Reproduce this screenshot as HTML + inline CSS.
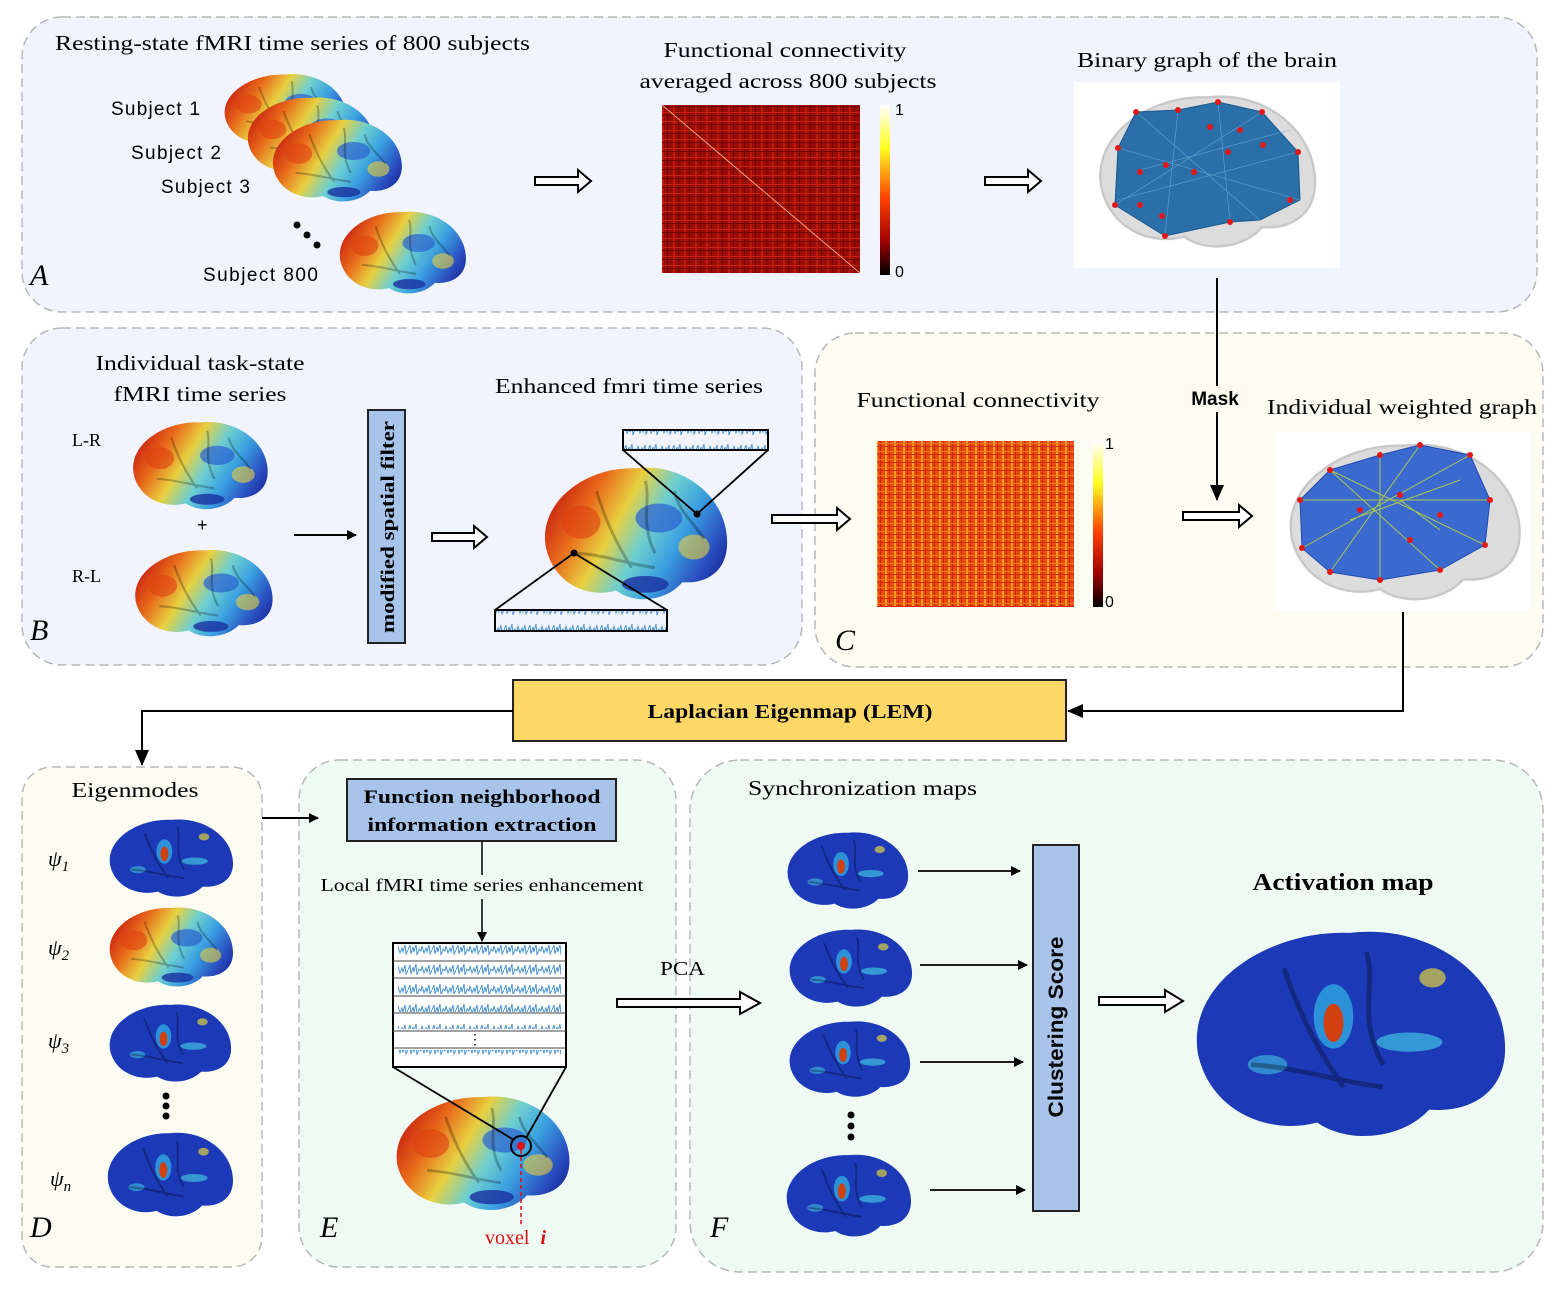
<!DOCTYPE html>
<html><head><meta charset="utf-8"><style>
html,body{margin:0;padding:0;background:#fff;}
svg{display:block;}
.s{font-family:"Liberation Serif",serif;}
.a{font-family:"Liberation Sans",sans-serif;}
</style></head><body>
<svg width="1568" height="1296" viewBox="0 0 1568 1296" xmlns="http://www.w3.org/2000/svg">
<defs>
<linearGradient id="jet" x1="0" y1="0.3" x2="1" y2="0.7">
<stop offset="0" stop-color="#c81e10"/><stop offset="0.2" stop-color="#e86a1a"/><stop offset="0.38" stop-color="#e8d040"/><stop offset="0.55" stop-color="#6ecfd0"/><stop offset="0.72" stop-color="#3aa0e0"/><stop offset="0.9" stop-color="#2a50c0"/><stop offset="1" stop-color="#1a30a0"/>
</linearGradient>
<linearGradient id="cb1" x1="0" y1="0" x2="0" y2="1"><stop offset="0" stop-color="#ffffff"/><stop offset="0.25" stop-color="#ffff20"/><stop offset="0.55" stop-color="#ff4000"/><stop offset="0.8" stop-color="#a00000"/><stop offset="1" stop-color="#000"/></linearGradient>
<pattern id="mA" width="11" height="9" patternUnits="userSpaceOnUse"><rect width="11" height="9" fill="#9a0c06"/><rect x="2" width="2" height="9" fill="#c01808"/><rect x="7" width="1" height="9" fill="#6a0604"/><rect y="4" width="11" height="1" fill="#c82010"/><rect y="7" width="11" height="1" fill="#700604"/></pattern>
<pattern id="mC" width="9" height="8" patternUnits="userSpaceOnUse"><rect width="9" height="8" fill="#e84a10"/><rect x="3" width="2" height="8" fill="#f8a020"/><rect x="7" width="1" height="8" fill="#c82008"/><rect y="3" width="9" height="1" fill="#f07a18"/><rect y="6" width="9" height="1" fill="#d03008"/></pattern>
<pattern id="sig" width="24" height="20" patternUnits="userSpaceOnUse"><path d="M0,10 L2,5 L3,14 L5,7 L6,12 L8,4 L9,15 L11,9 L13,11 L14,6 L16,13 L18,8 L19,12 L21,5 L22,14 L24,10" fill="none" stroke="#3c8cd0" stroke-width="0.9"/></pattern>
<symbol id="bj" viewBox="0 0 100 70" preserveAspectRatio="none">
<path d="M4,42 C0,20 25,3 50,4 C75,1 97,18 97,40 C97,54 86,60 74,59 C66,68 50,70 40,63 C26,67 8,60 4,42 Z" fill="url(#jet)"/>
<ellipse cx="62" cy="28" rx="12" ry="7" fill="#2a60d0" opacity="0.7"/>
<ellipse cx="80" cy="42" rx="8" ry="6" fill="#e8d040" opacity="0.6"/>
<ellipse cx="55" cy="60" rx="12" ry="4" fill="#1a30a0" opacity="0.8"/>
<ellipse cx="22" cy="30" rx="10" ry="8" fill="#e04010" opacity="0.6"/>
<path d="M30,15 C35,30 40,40 48,52 M55,10 C58,20 52,30 60,45 M20,45 C35,46 45,50 60,52 M70,15 C72,25 80,30 85,38" stroke="#000" stroke-opacity="0.25" stroke-width="1.5" fill="none"/>
</symbol>
<symbol id="ba" viewBox="0 0 100 70" preserveAspectRatio="none">
<path d="M4,42 C0,20 25,3 50,4 C75,1 97,18 97,40 C97,54 86,60 74,59 C66,68 50,70 40,63 C26,67 8,60 4,42 Z" fill="#1c3ab8"/>
<ellipse cx="45" cy="30" rx="6" ry="10" fill="#30a8e0" opacity="0.8"/>
<ellipse cx="45" cy="32" rx="3" ry="6" fill="#d04010"/>
<ellipse cx="68" cy="38" rx="10" ry="3" fill="#40c0e0" opacity="0.7"/>
<ellipse cx="25" cy="45" rx="6" ry="3" fill="#40c0e0" opacity="0.6"/>
<ellipse cx="75" cy="18" rx="4" ry="3" fill="#e0d040" opacity="0.7"/>
<path d="M30,15 C35,30 40,40 48,52 M55,10 C58,20 52,30 60,45 M20,45 C35,46 45,50 60,52" stroke="#000" stroke-opacity="0.3" stroke-width="1.5" fill="none"/>
</symbol>
<symbol id="bg" viewBox="0 0 100 70" preserveAspectRatio="none">
<path d="M4,42 C0,20 25,3 50,4 C75,1 97,18 97,40 C97,54 86,60 74,59 C66,68 50,70 40,63 C26,67 8,60 4,42 Z" fill="#dcdcdc" stroke="#c8c8c8"/>
</symbol>
<marker id="ar" markerWidth="10" markerHeight="10" refX="9" refY="5" orient="auto" markerUnits="userSpaceOnUse"><path d="M0,0 L10,5 L0,10 Z" fill="#000"/></marker>
<marker id="ar2" markerWidth="16" markerHeight="14" refX="15" refY="7" orient="auto" markerUnits="userSpaceOnUse"><path d="M0,0 L16,7 L0,14 Z" fill="#000"/></marker>
</defs>

<g stroke="#b8b8b8" stroke-width="1.5" stroke-dasharray="9,5">
<rect x="22" y="17" width="1515" height="295" rx="40" fill="#f1f4fc"/>
<rect x="22" y="328" width="780" height="337" rx="40" fill="#f1f4fc"/>
<rect x="815" y="333" width="728" height="334" rx="40" fill="#fcfcf2"/>
<rect x="22" y="767" width="240" height="500" rx="30" fill="#fcfcf2"/>
<rect x="299" y="760" width="377" height="507" rx="40" fill="#f0faf4"/>
<rect x="690" y="760" width="853" height="512" rx="50" fill="#f0faf4"/>
</g>

<!-- Panel A -->
<text class="s" x="55" y="50" font-size="21" textLength="475" lengthAdjust="spacingAndGlyphs">Resting-state fMRI time series of 800 subjects</text>
<use href="#bj" x="220" y="70" width="130" height="80"/>
<use href="#bj" x="243" y="93" width="135" height="85"/>
<use href="#bj" x="268" y="115" width="138" height="90"/>
<use href="#bj" x="335" y="207" width="135" height="90"/>
<g class="a" font-size="19"><text x="111" y="115" textLength="89">Subject 1</text><text x="131" y="159" textLength="90">Subject 2</text><text x="161" y="193" textLength="89">Subject 3</text><text x="203" y="281" textLength="115">Subject 800</text></g>
<circle cx="297" cy="225" r="3.5"/><circle cx="307" cy="235" r="3.5"/><circle cx="317" cy="245" r="3.5"/>
<text class="s" x="30" y="285" font-size="30" font-style="italic">A</text>
<path d="M535,177 L578,177 L578,170 L591,181 L578,192 L578,185 L535,185 Z" fill="#fff" stroke="#000" stroke-width="2"/>
<text class="s" x="785" y="57" font-size="21" text-anchor="middle" textLength="243" lengthAdjust="spacingAndGlyphs">Functional connectivity</text>
<text class="s" x="788" y="88" font-size="21" text-anchor="middle" textLength="297" lengthAdjust="spacingAndGlyphs">averaged across 800 subjects</text>
<rect x="662" y="105" width="198" height="168" fill="url(#mA)"/>
<line x1="662" y1="105" x2="860" y2="273" stroke="#f0a080" stroke-width="1"/>
<rect x="880" y="105" width="10" height="170" fill="url(#cb1)"/>
<text class="a" x="895" y="115" font-size="16">1</text><text class="a" x="895" y="277" font-size="16">0</text>
<path d="M985,177 L1028,177 L1028,170 L1041,181 L1028,192 L1028,185 L985,185 Z" fill="#fff" stroke="#000" stroke-width="2"/>
<text class="s" x="1207" y="67" font-size="21" text-anchor="middle" textLength="260" lengthAdjust="spacingAndGlyphs">Binary graph of the brain</text>
<rect x="1074" y="82" width="266" height="186" fill="#fff"/>
<use href="#bg" x="1092" y="88" width="230" height="165"/>
<path d="M1118,148 L1136,112 L1178,110 L1218,102 L1262,112 L1298,152 L1300,200 L1260,220 L1230,222 L1165,236 L1115,205 Z" fill="#2a6fa8" stroke="#1a5a90"/>
<g stroke="#6ab0d8" stroke-width="0.6" opacity="0.8"><path d="M1118,148 L1300,200 M1136,112 L1260,220 M1178,110 L1165,236 M1218,102 L1230,222 M1262,112 L1115,205 M1298,152 L1118,200 M1140,170 L1290,130"/></g>
<g fill="#e01818"><circle cx="1118" cy="148" r="3"/><circle cx="1136" cy="112" r="3"/><circle cx="1178" cy="110" r="3"/><circle cx="1218" cy="102" r="3"/><circle cx="1262" cy="112" r="3"/><circle cx="1298" cy="152" r="3"/><circle cx="1290" cy="200" r="3"/><circle cx="1230" cy="222" r="3"/><circle cx="1165" cy="236" r="3"/><circle cx="1115" cy="205" r="3"/><circle cx="1166" cy="165" r="3"/><circle cx="1194" cy="172" r="3"/><circle cx="1228" cy="152" r="3"/><circle cx="1210" cy="127" r="3"/><circle cx="1140" cy="172" r="3"/><circle cx="1162" cy="216" r="3"/><circle cx="1263" cy="145" r="3"/><circle cx="1240" cy="130" r="3"/><circle cx="1140" cy="205" r="3"/></g>
<line x1="1217" y1="278" x2="1217" y2="500" stroke="#000" stroke-width="2" marker-end="url(#ar2)"/>
<rect x="1185" y="386" width="62" height="26" fill="#fbfbf2"/>
<text class="a" x="1215" y="405" font-size="19" font-weight="bold" text-anchor="middle">Mask</text>

<!-- Panel B -->
<text class="s" x="200" y="370" font-size="21" text-anchor="middle" textLength="209" lengthAdjust="spacingAndGlyphs">Individual task-state</text>
<text class="s" x="200" y="401" font-size="21" text-anchor="middle" textLength="173" lengthAdjust="spacingAndGlyphs">fMRI time series</text>
<text class="s" x="72" y="446" font-size="18">L-R</text><text class="s" x="72" y="582" font-size="18">R-L</text>
<use href="#bj" x="128" y="417" width="144" height="96"/>
<use href="#bj" x="130" y="545" width="147" height="95"/>
<text class="a" x="197" y="531" font-size="18">+</text>
<line x1="294" y1="535" x2="356" y2="535" stroke="#000" stroke-width="2" marker-end="url(#ar)"/>
<rect x="368" y="410" width="37" height="233" fill="#a9c4ea" stroke="#222" stroke-width="2"/>
<text class="s" font-size="19" font-weight="bold" text-anchor="middle" textLength="212" lengthAdjust="spacingAndGlyphs" transform="translate(394,527) rotate(-90)">modified spatial filter</text>
<path d="M432,533 L474,533 L474,526 L487,537 L474,548 L474,541 L432,541 Z" fill="#fff" stroke="#000" stroke-width="2"/>
<text class="s" x="629" y="393" font-size="21" text-anchor="middle" textLength="268" lengthAdjust="spacingAndGlyphs">Enhanced fmri time series</text>
<use href="#bj" x="538" y="460" width="195" height="145"/>
<rect x="623" y="430" width="145" height="20" fill="url(#sig)" stroke="#000" stroke-width="2"/>
<rect x="495" y="610" width="172" height="21" fill="url(#sig)" stroke="#000" stroke-width="2"/>
<g stroke="#000" stroke-width="1.8"><line x1="623" y1="450" x2="697" y2="514"/><line x1="768" y1="450" x2="697" y2="514"/><line x1="495" y1="610" x2="574" y2="553"/><line x1="667" y1="610" x2="574" y2="553"/></g>
<circle cx="697" cy="514" r="3.5"/><circle cx="574" cy="553" r="3.5"/>
<text class="s" x="30" y="640" font-size="30" font-style="italic">B</text>
<path d="M772,515 L837,515 L837,508 L850,519 L837,530 L837,523 L772,523 Z" fill="#fff" stroke="#000" stroke-width="2"/>

<!-- Panel C -->
<text class="s" x="978" y="407" font-size="21" text-anchor="middle" textLength="243" lengthAdjust="spacingAndGlyphs">Functional connectivity</text>
<rect x="877" y="441" width="197" height="166" fill="url(#mC)"/>
<rect x="1093" y="441" width="10" height="166" fill="url(#cb1)"/>
<text class="a" x="1105" y="449" font-size="16">1</text><text class="a" x="1105" y="607" font-size="16">0</text>
<text class="s" x="835" y="650" font-size="30" font-style="italic">C</text>
<path d="M1183,512 L1239,512 L1239,505 L1252,516 L1239,527 L1239,520 L1183,520 Z" fill="#fff" stroke="#000" stroke-width="2"/>
<text class="s" x="1402" y="414" font-size="21" text-anchor="middle" textLength="270" lengthAdjust="spacingAndGlyphs">Individual weighted graph</text>
<rect x="1275" y="432" width="255" height="178" fill="#fff"/>
<use href="#bg" x="1282" y="436" width="245" height="170"/>
<path d="M1300,500 L1330,470 L1380,455 L1420,445 L1470,455 L1490,500 L1485,545 L1440,570 L1380,580 L1330,572 L1302,548 Z" fill="#3a6ad0" stroke="#1f48b0"/>
<g stroke="#b8d040" stroke-width="1" opacity="0.9"><path d="M1300,500 L1490,500 M1330,470 L1440,570 M1380,455 L1380,580 M1420,445 L1330,572 M1470,455 L1302,548 M1485,545 L1330,470 M1350,520 L1460,480 M1400,500 L1440,530"/></g>
<g fill="#e01818"><circle cx="1300" cy="500" r="3"/><circle cx="1330" cy="470" r="3"/><circle cx="1380" cy="455" r="3"/><circle cx="1420" cy="445" r="3"/><circle cx="1470" cy="455" r="3"/><circle cx="1490" cy="500" r="3"/><circle cx="1485" cy="545" r="3"/><circle cx="1440" cy="570" r="3"/><circle cx="1380" cy="580" r="3"/><circle cx="1330" cy="572" r="3"/><circle cx="1302" cy="548" r="3"/><circle cx="1360" cy="510" r="3"/><circle cx="1400" cy="495" r="3"/><circle cx="1440" cy="515" r="3"/><circle cx="1410" cy="540" r="3"/></g>
<polyline points="1403,612 1403,711 1068,711" fill="none" stroke="#000" stroke-width="2" marker-end="url(#ar2)"/>

<!-- LEM -->
<rect x="513" y="680" width="553" height="61" fill="#fdd866" stroke="#222" stroke-width="2"/>
<text class="s" x="790" y="718" font-size="20" font-weight="bold" text-anchor="middle" textLength="285" lengthAdjust="spacingAndGlyphs">Laplacian Eigenmap (LEM)</text>
<polyline points="513,711 142,711 142,765" fill="none" stroke="#000" stroke-width="2" marker-end="url(#ar2)"/>

<!-- Panel D -->
<text class="s" x="135" y="797" font-size="21" text-anchor="middle" textLength="127" lengthAdjust="spacingAndGlyphs">Eigenmodes</text>
<g class="s" font-size="22" font-style="italic"><text x="48" y="866">ψ<tspan font-size="15" dy="5">1</tspan></text><text x="48" y="955">ψ<tspan font-size="15" dy="5">2</tspan></text><text x="48" y="1048">ψ<tspan font-size="15" dy="5">3</tspan></text><text x="50" y="1186">ψ<tspan font-size="15" dy="5">n</tspan></text></g>
<use href="#ba" x="105" y="815" width="132" height="85"/>
<use href="#bj" x="105" y="903" width="132" height="87"/>
<use href="#ba" x="105" y="1000" width="130" height="85"/>
<use href="#ba" x="103" y="1128" width="134" height="92"/>
<circle cx="166" cy="1096" r="3.5"/><circle cx="166" cy="1106" r="3.5"/><circle cx="166" cy="1116" r="3.5"/>
<text class="s" x="30" y="1237" font-size="30" font-style="italic">D</text>
<line x1="262" y1="818" x2="318" y2="818" stroke="#000" stroke-width="2" marker-end="url(#ar)"/>

<!-- Panel E -->
<rect x="347" y="779" width="269" height="62" fill="#a9c4ea" stroke="#222" stroke-width="2"/>
<text class="s" x="482" y="803" font-size="19" font-weight="bold" text-anchor="middle" textLength="237" lengthAdjust="spacingAndGlyphs">Function neighborhood</text>
<text class="s" x="482" y="831" font-size="19" font-weight="bold" text-anchor="middle" textLength="229" lengthAdjust="spacingAndGlyphs">information extraction</text>
<line x1="482" y1="841" x2="482" y2="875" stroke="#000" stroke-width="1.5"/>
<text class="s" x="482" y="891" font-size="18" text-anchor="middle" textLength="323" lengthAdjust="spacingAndGlyphs">Local fMRI time series enhancement</text>
<line x1="482" y1="899" x2="482" y2="941" stroke="#000" stroke-width="1.5" marker-end="url(#ar)"/>
<rect x="393" y="943" width="173" height="124" fill="#fff" stroke="#000" stroke-width="2"/>
<g fill="url(#sig)"><rect x="398" y="945" width="163" height="14"/><rect x="398" y="963" width="163" height="14"/><rect x="398" y="980" width="163" height="14"/><rect x="398" y="998" width="163" height="14"/><rect x="398" y="1015" width="163" height="14"/><rect x="398" y="1050" width="163" height="14"/></g>
<g stroke="#444" stroke-width="1"><line x1="393" y1="961" x2="566" y2="961"/><line x1="393" y1="978" x2="566" y2="978"/><line x1="393" y1="996" x2="566" y2="996"/><line x1="393" y1="1013" x2="566" y2="1013"/><line x1="393" y1="1031" x2="566" y2="1031"/><line x1="393" y1="1048" x2="566" y2="1048"/></g>
<text class="s" x="468" y="1044" font-size="14">⋮</text>
<use href="#bj" x="390" y="1090" width="185" height="125"/>
<g stroke="#000" stroke-width="1.8"><line x1="393" y1="1067" x2="514" y2="1140"/><line x1="566" y1="1067" x2="526" y2="1138"/></g>
<circle cx="521" cy="1146" r="10" fill="none" stroke="#000" stroke-width="2"/>
<circle cx="521" cy="1146" r="4" fill="#e01010"/>
<line x1="521" y1="1150" x2="521" y2="1225" stroke="#e01010" stroke-width="1.5" stroke-dasharray="4,3"/>
<text class="s" x="485" y="1244" font-size="20" fill="#e01010">voxel <tspan font-style="italic" font-weight="bold" dx="6">i</tspan></text>
<text class="s" x="320" y="1237" font-size="30" font-style="italic">E</text>
<text class="s" x="660" y="975" font-size="20" textLength="45" lengthAdjust="spacingAndGlyphs">PCA</text>
<path d="M617,999 L740,999 L740,992 L760,1003 L740,1014 L740,1007 L617,1007 Z" fill="#fff" stroke="#000" stroke-width="2"/>

<!-- Panel F -->
<text class="s" x="748" y="795" font-size="21" textLength="229" lengthAdjust="spacingAndGlyphs">Synchronization maps</text>
<use href="#ba" x="783" y="828" width="129" height="84"/>
<use href="#ba" x="785" y="925" width="131" height="85"/>
<use href="#ba" x="785" y="1017" width="129" height="83"/>
<use href="#ba" x="782" y="1150" width="133" height="90"/>
<circle cx="851" cy="1115" r="3.5"/><circle cx="851" cy="1126" r="3.5"/><circle cx="851" cy="1137" r="3.5"/>
<g stroke="#000" stroke-width="1.8"><line x1="918" y1="871" x2="1020" y2="871" marker-end="url(#ar)"/><line x1="920" y1="965" x2="1027" y2="965" marker-end="url(#ar)"/><line x1="920" y1="1062" x2="1023" y2="1062" marker-end="url(#ar)"/><line x1="930" y1="1190" x2="1025" y2="1190" marker-end="url(#ar)"/></g>
<rect x="1033" y="845" width="46" height="366" fill="#a9c4ea" stroke="#222" stroke-width="2"/>
<text class="a" font-size="21" font-weight="bold" text-anchor="middle" textLength="181" lengthAdjust="spacingAndGlyphs" transform="translate(1063,1027) rotate(-90)">Clustering Score</text>
<path d="M1099,997 L1165,997 L1165,990 L1183,1001 L1165,1012 L1165,1005 L1099,1005 Z" fill="#fff" stroke="#000" stroke-width="2"/>
<text class="s" x="1343" y="890" font-size="24" font-weight="bold" text-anchor="middle" textLength="181" lengthAdjust="spacingAndGlyphs">Activation map</text>
<use href="#ba" x="1185" y="920" width="330" height="225"/>
<text class="s" x="710" y="1237" font-size="30" font-style="italic">F</text>
</svg>
</body></html>
